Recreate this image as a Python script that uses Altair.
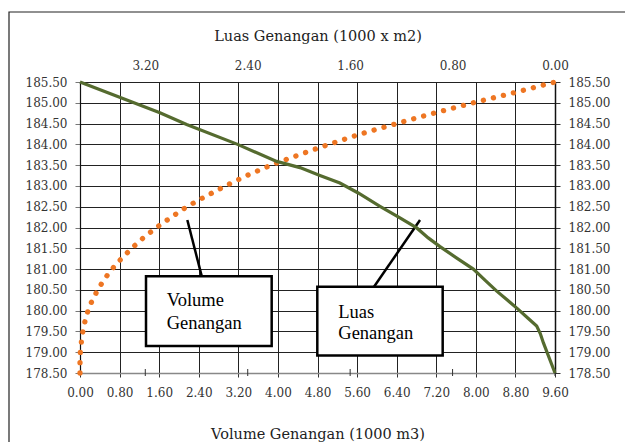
import altair as alt
import pandas as pd

# ---- data ----
elev_vol = [178.5, 178.75, 179.0, 179.25, 179.5, 179.75, 180.0, 180.25, 180.5, 180.75,
            181.0, 181.25, 181.5, 181.75, 182.0, 182.25, 182.5, 182.75, 183.0, 183.25,
            183.5, 183.75, 184.0, 184.25, 184.5, 184.75, 185.0, 185.25, 185.5]
volume = [0.0, 0.0, 0.006, 0.028, 0.058, 0.102, 0.161, 0.248, 0.358, 0.488,
          0.647, 0.835, 1.045, 1.278, 1.546, 1.846, 2.16, 2.54, 2.94, 3.37,
          3.86, 4.43, 5.03, 5.67, 6.40, 7.15, 7.95, 8.8, 9.6]

elev_luas = [185.5, 184.76, 184.48, 184.0, 183.59, 183.44, 183.25, 183.07, 182.83, 182.51,
             182.23, 181.99, 181.75, 181.54, 181.27, 181.0, 180.73, 180.47, 180.25, 180.03,
             179.83, 179.63, 179.45, 179.23, 178.5]
luas = [3.71, 3.086, 2.877, 2.479, 2.174, 1.992, 1.836, 1.68, 1.537, 1.367,
        1.211, 1.08, 0.99, 0.898, 0.77, 0.638, 0.545, 0.455, 0.37, 0.287,
        0.215, 0.143, 0.115, 0.091, 0.0]

vol_ticks = [0.0, 0.8, 1.6, 2.4, 3.2, 4.0, 4.8, 5.6, 6.4, 7.2, 8.0, 8.8, 9.6]
luas_ticks = [0.0, 0.8, 1.6, 2.4, 3.2]
elev_ticks = [178.5, 179.0, 179.5, 180.0, 180.5, 181.0, 181.5, 182.0,
              182.5, 183.0, 183.5, 184.0, 184.5, 185.0, 185.5]

# annotation boxes (in volume / elevation units)
box_x1 = [1.334, 4.796]
box_x2 = [3.874, 7.33]
box_y1 = [179.147, 178.923]
box_y2 = [180.83, 180.575]
conn_x1 = [2.169, 6.872]
conn_y1 = [182.18, 182.18]
conn_x2 = [2.46, 5.942]
conn_y2 = [180.83, 180.575]
label_text = ["Volume", "Genangan", "Luas", "Genangan"]
label_x = [1.752, 1.752, 5.22, 5.22]
label_y = [180.108, 179.56, 179.83, 179.325]

df_vol = pd.DataFrame({"volume": volume, "elev": elev_vol})
df_luas = pd.DataFrame({"luas": luas, "elev": elev_luas})
df_box = pd.DataFrame({"x1": box_x1, "x2": box_x2, "y1": box_y1, "y2": box_y2})
df_conn = pd.DataFrame({"x1": conn_x1, "y1": conn_y1, "x2": conn_x2, "y2": conn_y2})
df_lab = pd.DataFrame({"t": label_text, "x": label_x, "y": label_y})
df_lt = pd.DataFrame({"v": luas_ticks})

FONT = "DejaVu Serif"
vol_scale = alt.Scale(domain=[0, 9.6], nice=False, zero=False)
elev_scale = alt.Scale(domain=[178.5, 185.5], nice=False, zero=False)
luas_scale = alt.Scale(domain=[0, 3.71], nice=False, zero=False, reverse=True)

x_axis = alt.Axis(orient="bottom", values=vol_ticks, format=".2f",
                  title="Volume Genangan (1000 m3)", grid=True, gridColor="#222",
                  gridWidth=1, domainColor="#888", domainWidth=1.5, tickColor="#333",
                  tickSize=4, labelPadding=10, titlePadding=29, labelFlush=False)
y_axis = alt.Axis(orient="left", values=elev_ticks, format=".2f", title=None,
                  grid=True, gridColor="#222", gridWidth=1, domainColor="#111",
                  domainWidth=1.2, tickColor="#777", tickSize=5, labelPadding=8,
                  labelFlush=False)

vol_line = alt.Chart(df_vol).mark_line(
    color="#EE7623", strokeWidth=5.3, strokeDash=[0.1, 10.2], strokeCap="round"
).encode(
    x=alt.X("volume:Q", scale=vol_scale, axis=x_axis),
    y=alt.Y("elev:Q", scale=elev_scale, axis=y_axis),
    order="elev:Q",
)

boxes = alt.Chart(df_box).mark_rect(fill="white", stroke="black", strokeWidth=2.5).encode(
    x=alt.X("x1:Q", scale=vol_scale, axis=x_axis), x2="x2:Q",
    y=alt.Y("y1:Q", scale=elev_scale, axis=y_axis), y2="y2:Q",
)
conns = alt.Chart(df_conn).mark_rule(color="black", strokeWidth=2.5).encode(
    x=alt.X("x1:Q", scale=vol_scale, axis=x_axis), x2="x2:Q",
    y=alt.Y("y1:Q", scale=elev_scale, axis=y_axis), y2="y2:Q",
)
labels = alt.Chart(df_lab).mark_text(
    font="Liberation Serif", fontSize=18.5, align="left", baseline="alphabetic", color="black"
).encode(
    x=alt.X("x:Q", scale=vol_scale, axis=x_axis),
    y=alt.Y("y:Q", scale=elev_scale, axis=y_axis),
    text="t:N",
)
frame = alt.Chart(pd.DataFrame({"a": [0]})).mark_rect(
    fill="transparent", stroke="#222", strokeWidth=1.2, clip=False
).encode(x=alt.value(-71), x2=alt.value(720), y=alt.value(-70), y2=alt.value(520))

group_vol = alt.layer(frame, vol_line, conns, boxes, labels)

top_axis = alt.Axis(orient="top", values=luas_ticks, format=".2f",
                    title="Luas Genangan (1000 x m2)", grid=False, ticks=False,
                    domain=False, labelPadding=10, titlePadding=16, labelFlush=False)
right_axis = alt.Axis(orient="right", values=elev_ticks, format=".2f", title=None,
                      grid=False, domainColor="#111", domainWidth=1.5, tickColor="#333",
                      tickSize=5, labelPadding=8, labelFlush=False)

luas_line = alt.Chart(df_luas).mark_line(color="#556B2F", strokeWidth=3.2).encode(
    x=alt.X("luas:Q", scale=luas_scale, axis=top_axis),
    y=alt.Y("elev:Q", scale=elev_scale, axis=right_axis),
    order="elev:Q",
)
luas_minor = alt.Chart(df_lt).mark_rule(color="#333", strokeWidth=1).encode(
    x=alt.X("v:Q", scale=luas_scale, axis=top_axis),
    y=alt.value(287), y2=alt.value(294),
)
group_luas = alt.layer(luas_minor, luas_line)

chart = alt.layer(group_vol, group_luas).resolve_scale(
    x="independent", y="independent"
).properties(
    width=475, height=291,
    autosize="none",
    background="white",
    padding={"left": 72, "top": 74, "right": 70, "bottom": 70},
).configure_view(stroke=None).configure_axis(
    labelFont=FONT, labelFontSize=12, labelColor="#333",
    titleFont=FONT, titleFontSize=14.5, titleColor="#222", titleFontWeight="normal",
)

chart.save("out.html", embed_options={"renderer": "svg", "actions": False})
